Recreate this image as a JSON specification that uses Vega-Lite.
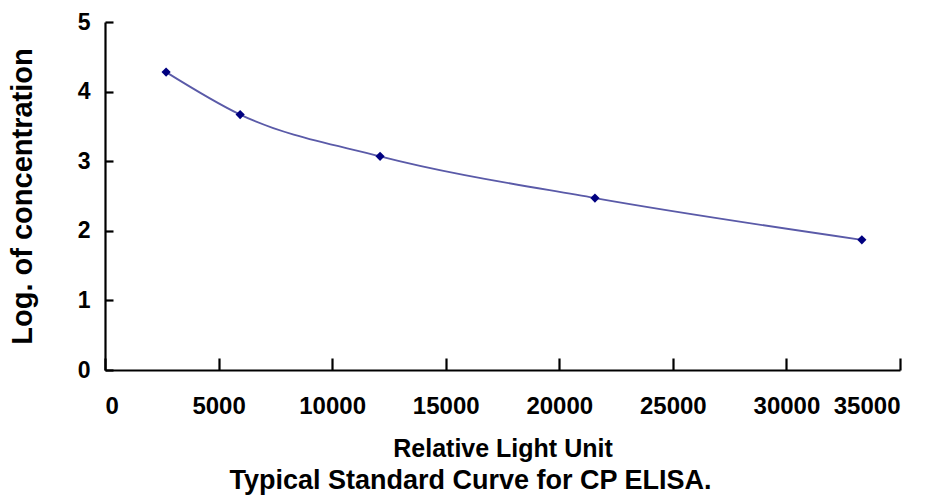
{
  "$schema": "https://vega.github.io/schema/vega-lite/v6.json",
  "width": 795,
  "height": 348,
  "autosize": "none",
  "padding": {"left": 105, "top": 22, "right": 38, "bottom": 131},
  "background": "white",
  "title": {
    "text": "Typical Standard Curve for CP ELISA.",
    "orient": "bottom",
    "anchor": "middle",
    "frame": "group",
    "dx": -32,
    "offset": 7,
    "fontSize": 27,
    "font": "Liberation Sans",
    "fontWeight": "bold",
    "color": "black"
  },
  "data": {
    "values": [
      {"rlu": 2690, "logc": 4.28},
      {"rlu": 5950, "logc": 3.67},
      {"rlu": 12110, "logc": 3.07},
      {"rlu": 21570, "logc": 2.47},
      {"rlu": 33320, "logc": 1.87}
    ]
  },
  "encoding": {
    "x": {
      "field": "rlu",
      "type": "quantitative",
      "title": "Relative Light Unit",
      "scale": {"domain": [0, 35000], "nice": false, "zero": false},
      "axis": {
        "values": [0, 5000, 10000, 15000, 20000, 25000, 30000, 35000],
        "format": "d",
        "grid": false,
        "tickSize": -12,
        "labelPadding": 36,
        "labelFontSize": 24,
        "titleFontSize": 25,
        "titlePadding": 18
      }
    },
    "y": {
      "field": "logc",
      "type": "quantitative",
      "title": "Log. of concentration",
      "scale": {"domain": [0, 5], "nice": false},
      "axis": {
        "values": [0, 1, 2, 3, 4, 5],
        "grid": false,
        "tickSize": -8,
        "labelPadding": 23,
        "labelFontSize": 23,
        "titleFontSize": 29,
        "titlePadding": 40
      }
    }
  },
  "layer": [
    {
      "mark": {"type": "line", "interpolate": "monotone", "color": "#5a5aa8", "strokeWidth": 1.8}
    },
    {
      "mark": {"type": "point", "shape": "diamond", "filled": true, "size": 85, "color": "#000080", "opacity": 1}
    }
  ],
  "config": {
    "view": {"stroke": null},
    "axis": {
      "domainColor": "black",
      "domainWidth": 2.2,
      "tickColor": "black",
      "tickWidth": 2.2,
      "labelFont": "Liberation Sans",
      "labelFontWeight": "bold",
      "labelColor": "black",
      "titleFont": "Liberation Sans",
      "titleFontWeight": "bold",
      "titleColor": "black"
    }
  }
}
